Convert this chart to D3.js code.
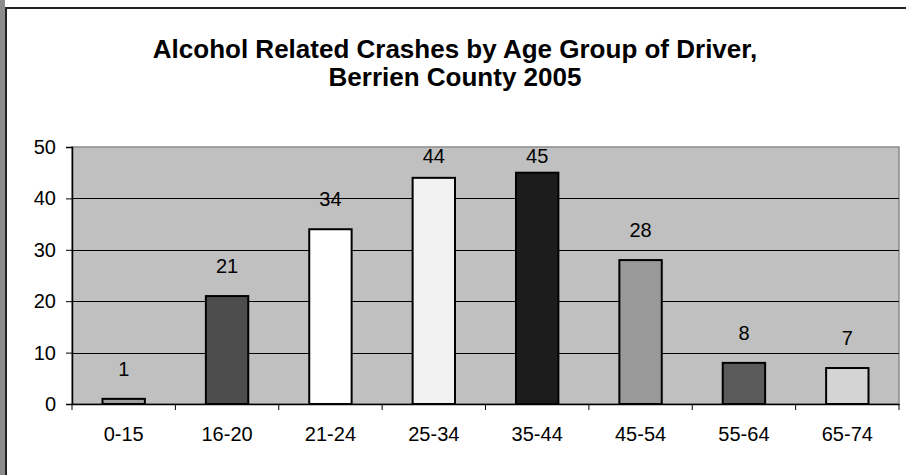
<!DOCTYPE html>
<html>
<head>
<meta charset="utf-8">
<script src="https://cdn.jsdelivr.net/npm/d3@7/dist/d3.min.js"></script>
<style>
  body { margin: 0; background: #fff; }
  svg { display: block; font-family: Arial, "Liberation Sans", sans-serif; }
</style>
</head>
<body>
<div id="chart"></div>
<script>

var ageGroups = ['0-15', '16-20', '21-24', '25-34', '35-44', '45-54', '55-64', '65-74'];
var crashes = [1, 21, 34, 44, 45, 28, 8, 7];
var barColors = ['#a0a0a0', '#4d4d4d', '#ffffff', '#f2f2f2', '#1c1c1c', '#999999', '#5a5a5a', '#d4d4d4'];
var yTicks = [0, 10, 20, 30, 40, 50];
var titleLines = ['Alcohol Related Crashes by Age Group of Driver,', 'Berrien County 2005'];

var width = 906, height = 475;
var margin = { top: 147, right: 7, bottom: 71, left: 72 };
var labelFont = 20;

var svg = d3.select('#chart').append('svg')
  .attr('width', width)
  .attr('height', height);

// textured strip on the far left + chart frame
svg.append('rect')
  .attr('x', 0).attr('y', 0)
  .attr('width', 5).attr('height', height)
  .attr('fill', '#8c8c8c');

svg.append('rect')
  .attr('x', 6).attr('y', 8)
  .attr('width', width + 10).attr('height', height + 10)
  .attr('fill', '#fff')
  .attr('stroke', '#222')
  .attr('stroke-width', 2);

// title
svg.append('g').selectAll('text')
  .data(titleLines)
  .enter().append('text')
  .attr('x', 455)
  .attr('y', function(d, i) { return 58 + i * 28; })
  .attr('text-anchor', 'middle')
  .attr('font-size', 26)
  .attr('font-weight', 'bold')
  .attr('fill', '#000')
  .text(function(d) { return d; });

var x = d3.scaleBand()
  .domain(ageGroups)
  .range([margin.left, width - margin.right])
  .padding(0);

var y = d3.scaleLinear()
  .domain([0, 50])
  .range([height - margin.bottom, margin.top]);

// plot area
svg.append('rect')
  .attr('x', margin.left)
  .attr('y', y(50))
  .attr('width', x.range()[1] - margin.left)
  .attr('height', y(0) - y(50))
  .attr('fill', '#c0c0c0')
  .attr('stroke', '#8a8a8a')
  .attr('stroke-width', 1.5);

// gridlines
svg.append('g').selectAll('line')
  .data(yTicks.filter(function(d) { return d > 0 && d < 50; }))
  .enter().append('line')
  .attr('x1', margin.left)
  .attr('x2', x.range()[1])
  .attr('y1', function(d) { return Math.round(y(d)) + 0.5; })
  .attr('y2', function(d) { return Math.round(y(d)) + 0.5; })
  .attr('stroke', '#000')
  .attr('stroke-width', 1);

// bars
var barW = x.bandwidth() * 0.41;

svg.append('g').selectAll('rect')
  .data(crashes)
  .enter().append('rect')
  .attr('x', function(d, i) { return x(ageGroups[i]) + (x.bandwidth() - barW) / 2; })
  .attr('y', function(d) { return y(d); })
  .attr('width', barW)
  .attr('height', function(d) { return y(0) - y(d); })
  .attr('fill', function(d, i) { return barColors[i]; })
  .attr('stroke', '#000')
  .attr('stroke-width', 2);

// value labels (pushed down so they stay inside the plot area)
svg.append('g').selectAll('text')
  .data(crashes)
  .enter().append('text')
  .attr('x', function(d, i) { return x(ageGroups[i]) + x.bandwidth() / 2; })
  .attr('y', function(d) { return Math.max(y(d) - 23, y(50) + 16); })
  .attr('text-anchor', 'middle')
  .attr('font-size', labelFont)
  .attr('fill', '#000')
  .text(function(d) { return d; });

// y axis
var yAxis = svg.append('g')
  .attr('transform', 'translate(' + margin.left + ',0)')
  .call(d3.axisLeft(y).tickValues(yTicks).tickSize(6).tickPadding(10));

yAxis.select('.domain').attr('stroke', '#000').attr('stroke-width', 1.5);
yAxis.selectAll('.tick line').attr('stroke', '#000');
yAxis.selectAll('.tick text')
  .attr('font-size', labelFont)
  .attr('font-family', 'Arial, "Liberation Sans", sans-serif')
  .attr('fill', '#000');

// x axis
var xAxis = svg.append('g')
  .attr('transform', 'translate(0,' + y(0) + ')')
  .call(d3.axisBottom(x).tickSize(0).tickPadding(23));

xAxis.select('.domain').attr('stroke', '#000').attr('stroke-width', 1.5);
xAxis.selectAll('.tick text')
  .attr('font-size', labelFont)
  .attr('font-family', 'Arial, "Liberation Sans", sans-serif')
  .attr('fill', '#000');

// category boundary ticks
svg.append('g').selectAll('line')
  .data(ageGroups.concat(['end']))
  .enter().append('line')
  .attr('x1', function(d, i) { return margin.left + i * x.step(); })
  .attr('x2', function(d, i) { return margin.left + i * x.step(); })
  .attr('y1', y(0))
  .attr('y2', y(0) + 6)
  .attr('stroke', '#000');

</script>
</body>
</html>
